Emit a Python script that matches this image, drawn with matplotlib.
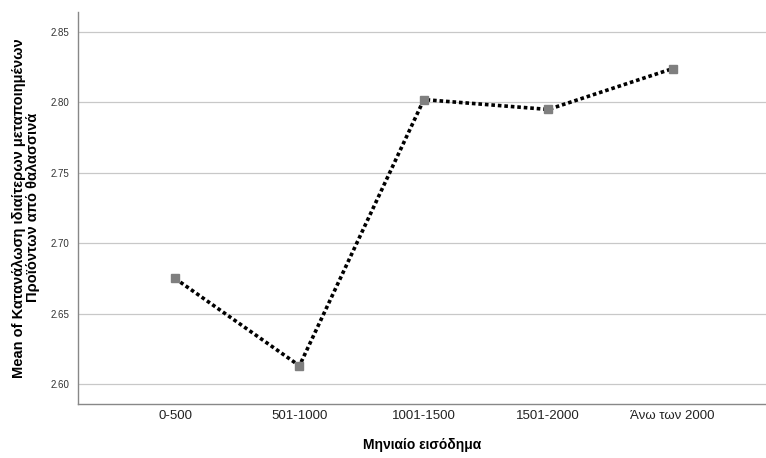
import matplotlib
matplotlib.use("Agg")
import matplotlib.pyplot as plt

plt.rcParams['font.family'] = ['Liberation Sans', 'DejaVu Sans']

# mean consumption by monthly income group
income_groups = ["0-500", "501-1000", "1001-1500", "1501-2000", "Άνω των 2000"]
mean_values = [2.675, 2.613, 2.802, 2.795, 2.824]
y_ticks = [2.60, 2.65, 2.70, 2.75, 2.80, 2.85]

fig = plt.figure(figsize=(7.66, 4.58), dpi=100)
ax = fig.add_axes([78/766, 1 - 403.5/458, (766 - 78)/766, (403.5 - 12)/458])

x = range(len(income_groups))
ax.plot(x, mean_values, color="black", linestyle=(0, (1, 0.8)), linewidth=2.6, zorder=3)
ax.plot(x, mean_values, linestyle="none", marker="s", markersize=6,
        markerfacecolor="#7f7f7f", markeredgecolor="#7f7f7f", zorder=4)

ax.set_xlim(-0.78, 4.75)
ax.set_ylim(2.5862, 2.8642)
ax.set_xticks(list(x))
ax.set_xticklabels(income_groups, fontsize=9.5, color="#222222")
ax.set_yticks(y_ticks)
ax.set_yticklabels(["%.2f" % v for v in y_ticks], fontsize=7, color="#333333")
ax.tick_params(axis="both", length=0)
ax.tick_params(axis="x", pad=5)
ax.tick_params(axis="y", pad=6)

ax.grid(axis="y", color="#c8c8c8", linewidth=0.9)
ax.set_axisbelow(True)
for s in ["top", "right"]:
    ax.spines[s].set_visible(False)
for s in ["left", "bottom"]:
    ax.spines[s].set_color("#888888")
    ax.spines[s].set_linewidth(1.0)

ax.set_xlabel("Μηνιαίο εισόδημα", fontsize=10, fontweight="bold", labelpad=11)
ax.set_ylabel("Mean of Κατανάλωση ιδιαίτερων μεταποιημένων\nΠροϊόντων από θαλασσινά",
              fontsize=10.5, fontweight="bold", labelpad=8, linespacing=1.0)

fig.savefig("out.png", dpi=100)
